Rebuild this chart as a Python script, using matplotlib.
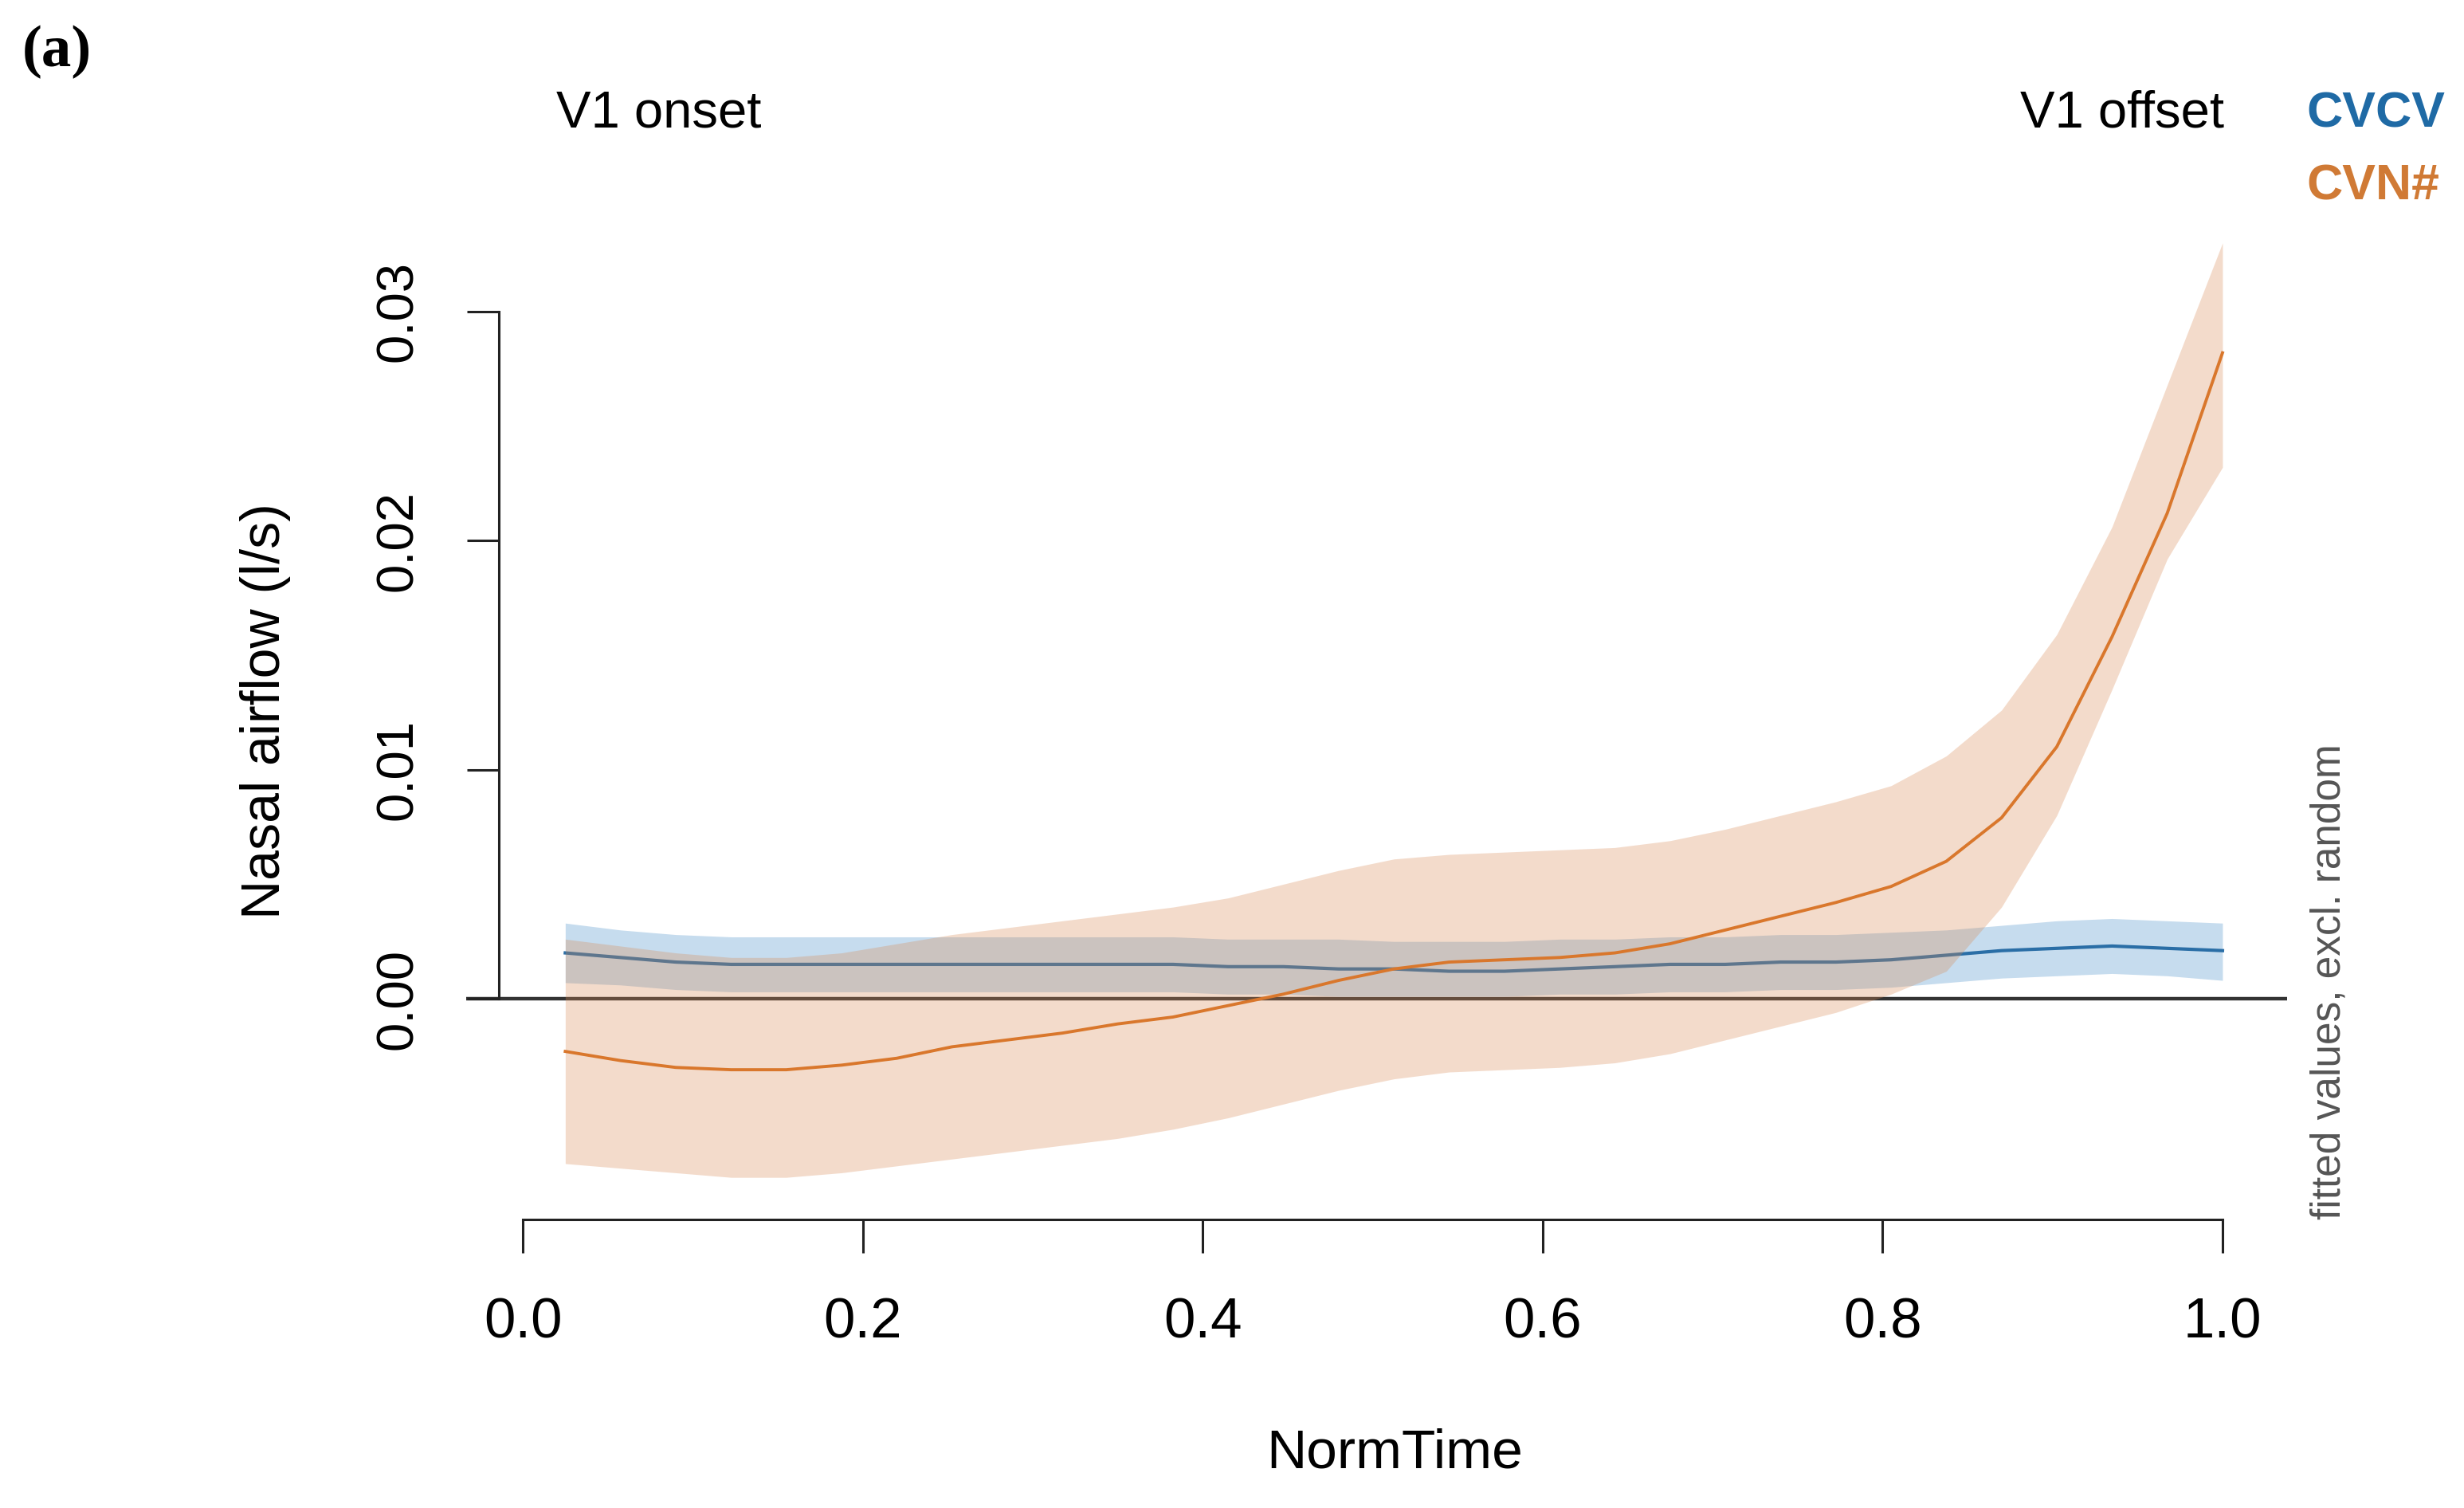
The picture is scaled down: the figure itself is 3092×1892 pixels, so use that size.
import matplotlib
matplotlib.use("Agg")
import matplotlib.pyplot as plt

# ---------------- data ----------------
norm_time = [0.025, 0.0575, 0.09, 0.1225, 0.155, 0.1875, 0.22, 0.2525, 0.285, 0.3175,
             0.35, 0.3825, 0.415, 0.4475, 0.48, 0.5125, 0.545, 0.5775, 0.61, 0.6425,
             0.675, 0.7075, 0.74, 0.7725, 0.805, 0.8375, 0.87, 0.9025, 0.935, 0.9675, 1.0]

cvn_fit = [-0.0023, -0.0027, -0.0030, -0.0031, -0.0031, -0.0029, -0.0026, -0.0021, -0.0018, -0.0015,
           -0.0011, -0.0008, -0.0003, 0.0002, 0.0008, 0.0013, 0.0016, 0.0017, 0.0018, 0.0020,
           0.0024, 0.0030, 0.0036, 0.0042, 0.0049, 0.0060, 0.0079, 0.0110, 0.0158, 0.0212, 0.0282]
cvn_upper = [0.0026, 0.0023, 0.0020, 0.0018, 0.0018, 0.0020, 0.0024, 0.0028, 0.0031, 0.0034,
             0.0037, 0.0040, 0.0044, 0.0050, 0.0056, 0.0061, 0.0063, 0.0064, 0.0065, 0.0066,
             0.0069, 0.0074, 0.0080, 0.0086, 0.0093, 0.0106, 0.0126, 0.0159, 0.0206, 0.0268, 0.0330]
cvn_lower = [-0.0072, -0.0074, -0.0076, -0.0078, -0.0078, -0.0076, -0.0073, -0.0070, -0.0067, -0.0064,
             -0.0061, -0.0057, -0.0052, -0.0046, -0.0040, -0.0035, -0.0032, -0.0031, -0.0030, -0.0028,
             -0.0024, -0.0018, -0.0012, -0.0006, 0.0002, 0.0012, 0.0040, 0.0080, 0.0135, 0.0192, 0.0232]

cvcv_fit = [0.0020, 0.0018, 0.0016, 0.0015, 0.0015, 0.0015, 0.0015, 0.0015, 0.0015, 0.0015,
            0.0015, 0.0015, 0.0014, 0.0014, 0.0013, 0.0013, 0.0012, 0.0012, 0.0013, 0.0014,
            0.0015, 0.0015, 0.0016, 0.0016, 0.0017, 0.0019, 0.0021, 0.0022, 0.0023, 0.0022, 0.0021]
cvcv_upper = [0.0033, 0.0030, 0.0028, 0.0027, 0.0027, 0.0027, 0.0027, 0.0027, 0.0027, 0.0027,
              0.0027, 0.0027, 0.0026, 0.0026, 0.0026, 0.0025, 0.0025, 0.0025, 0.0026, 0.0026,
              0.0027, 0.0027, 0.0028, 0.0028, 0.0029, 0.0030, 0.0032, 0.0034, 0.0035, 0.0034, 0.0033]
cvcv_lower = [0.0007, 0.0006, 0.0004, 0.0003, 0.0003, 0.0003, 0.0003, 0.0003, 0.0003, 0.0003,
              0.0003, 0.0003, 0.0002, 0.0002, 0.0001, 0.0001, 0.0001, 0.0001, 0.0002, 0.0002,
              0.0003, 0.0003, 0.0004, 0.0004, 0.0005, 0.0007, 0.0009, 0.0010, 0.0011, 0.0010, 0.0008]

x_ticks = [0.0, 0.2, 0.4, 0.6, 0.8, 1.0]
x_tick_labels = ["0.0", "0.2", "0.4", "0.6", "0.8", "1.0"]
y_ticks = [0.00, 0.01, 0.02, 0.03]
y_tick_labels = ["0.00", "0.01", "0.02", "0.03"]

# ---------------- style ----------------
W, H = 3092, 1892
SANS = ["Liberation Sans Narrow", "Liberation Sans", "DejaVu Sans"]
BLUE = "#2a6ea6"
BLUE_FILL = "#c6dcee"
ORANGE = "#d9772c"
ORANGE_FILL = "#d98a55"

fig = plt.figure(figsize=(W / 100, H / 100), dpi=100)

def fx(px):
    return px / W

def fy(py):
    return 1 - py / H

ax_left, ax_right = 585, 2870
ax_bottom, ax_top = 1530, 276
ax = fig.add_axes([fx(ax_left), fy(ax_bottom), fx(ax_right - ax_left), (ax_bottom - ax_top) / H])
ax.set_xlim(-0.0333, 1.038)
ax.set_ylim(-0.009638, 0.034)

# zero line (below orange band)
ax.axhline(0, color="#333333", lw=3.2, zorder=1)

# CVCV band and line
ax.fill_between(norm_time, cvcv_lower, cvcv_upper, color=BLUE_FILL, lw=0, zorder=2)
ax.plot(norm_time, cvcv_fit, color=BLUE, lw=3.0, zorder=3)

# CVN# band and line
ax.fill_between(norm_time, cvn_lower, cvn_upper, color=ORANGE_FILL, alpha=0.3, lw=0, zorder=4)
ax.plot(norm_time, cvn_fit, color=ORANGE, lw=2.8, zorder=5)

# spines
for s in ["top", "right"]:
    ax.spines[s].set_visible(False)
ax.spines["left"].set_position(("data", -0.01406))
ax.spines["left"].set_bounds(0, 0.03)
ax.spines["bottom"].set_bounds(0, 1)
for s in ["left", "bottom"]:
    ax.spines[s].set_linewidth(2.2)
    ax.spines[s].set_color("#222222")

ax.set_xticks(x_ticks)
ax.set_xticklabels(x_tick_labels, family=SANS, fontsize=51)
ax.set_yticks(y_ticks)
ax.set_yticklabels(y_tick_labels, family=SANS, fontsize=47, rotation=90, va="center")
ax.tick_params(axis="x", length=30, width=2.2, color="#222222", pad=40)
ax.tick_params(axis="y", length=29, width=2.2, color="#222222", pad=40)

# axis titles
fig.text(fx(1750), fy(1823), "NormTime", family=SANS, fontsize=50,
         ha="center", va="center")
fig.text(fx(333), fy(892), "Nasal airflow (l/s)", family=SANS, fontsize=49,
         ha="center", va="center", rotation=90)

# annotations
fig.text(fx(71), fy(65), "(a)", family=["Liberation Serif", "DejaVu Serif"], fontsize=54,
         fontweight="bold", ha="center", va="center")
fig.text(fx(698), fy(143), "V1 onset", family=SANS, fontsize=47, ha="left", va="center")
fig.text(fx(2791), fy(143), "V1 offset", family=SANS, fontsize=47, ha="right", va="center")
fig.text(fx(2894), fy(143), "CVCV", family=SANS, fontsize=45, fontweight="bold",
         color="#1f6aa5", ha="left", va="center")
fig.text(fx(2894), fy(234), "CVN#", family=SANS, fontsize=45, fontweight="bold",
         color="#d07a35", ha="left", va="center")
fig.text(fx(2923), fy(1530), "fitted values, excl. random", family=SANS, fontsize=37,
         color="#555555", ha="center", va="bottom", rotation=90)

fig.savefig("out.png", dpi=100, facecolor="white")
